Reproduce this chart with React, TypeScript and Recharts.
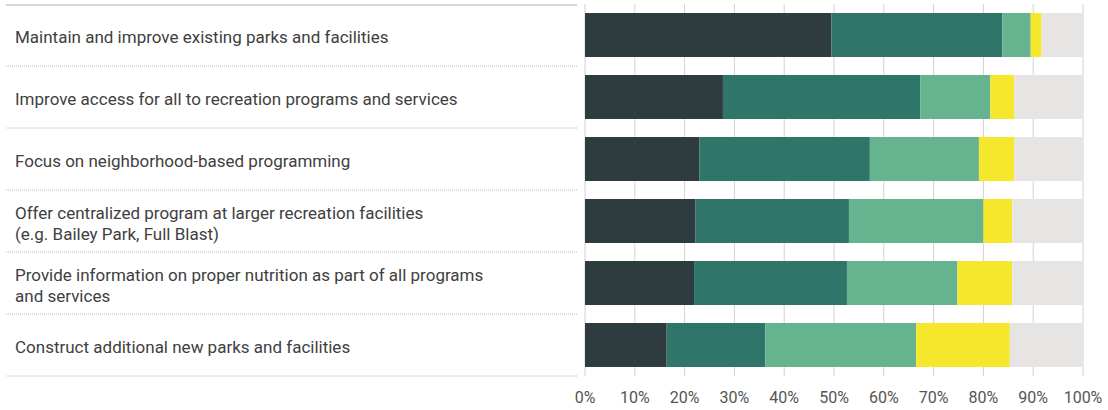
import React from 'react';
import { BarChart, Bar, XAxis, YAxis, CartesianGrid } from 'recharts';

const categories = [
  'Maintain and improve existing parks and facilities',
  'Improve access for all to recreation programs and services',
  'Focus on neighborhood-based programming',
  'Offer centralized program at larger recreation facilities\n(e.g. Bailey Park, Full Blast)',
  'Provide information on proper nutrition as part of all programs\nand services',
  'Construct additional new parks and facilities',
];

const seriesA = [49.5, 27.7, 23.0, 22.2, 21.9, 16.4];
const seriesB = [34.3, 39.6, 34.2, 30.8, 30.7, 19.8];
const seriesC = [5.7, 14.1, 21.9, 27.0, 22.2, 30.3];
const seriesD = [2.2, 4.8, 7.1, 5.8, 11.0, 18.8];
const seriesE = [8.3, 13.8, 13.8, 14.2, 14.2, 14.7];

const xTicks = [0, 10, 20, 30, 40, 50, 60, 70, 80, 90, 100];

const data = categories.map((c, i) => ({
  name: c,
  a: seriesA[i],
  b: seriesB[i],
  c: seriesC[i],
  d: seriesD[i],
  e: seriesE[i],
}));

const W = 1108;
const H = 410;
const M = { top: 4, right: 25, bottom: 0, left: 0 };
const XH = 34;
const BAND = (H - M.top - M.bottom - XH) / categories.length;
const FONT = 'Roboto, "Noto Sans", sans-serif';

const YTick = (props: any) => {
  const { y, payload, index } = props;
  const lines = String(payload.value).split('\n');
  const lh = 21;
  const startY = y + 6 - ((lines.length - 1) * lh) / 2 + 2;
  return (
    <g>
      {index === 0 && (
        <line x1={6} x2={577} y1={y - BAND / 2 + 1} y2={y - BAND / 2 + 1} stroke="#c8c8c8" strokeWidth={1.5} />
      )}
      <line x1={6} x2={577} y1={y + BAND / 2} y2={y + BAND / 2} stroke="#b8b8b8" strokeWidth={1} strokeDasharray="1 1" />
      <text x={15} y={startY} fill="#404040" fontSize={17} fontFamily={FONT} textAnchor="start">
        {lines.map((l, i) => (
          <tspan key={i} x={15} y={startY + i * lh}>
            {l}
          </tspan>
        ))}
      </text>
    </g>
  );
};

export default function App() {
  return (
    <div style={{ position: 'absolute', left: 0, top: 0, background: '#fff' }}>
      <BarChart width={W} height={H} data={data} layout="vertical" margin={M} barCategoryGap={0}>
        <CartesianGrid vertical horizontal={false} stroke="#d2d2d2" verticalValues={xTicks} />
        <XAxis
          type="number"
          domain={[0, 100]}
          ticks={xTicks}
          tickFormatter={(v) => `${v}%`}
          axisLine={false}
          tickLine={false}
          height={XH}
          tick={{ fill: '#555', fontSize: 16, fontFamily: FONT }}
          tickMargin={10}
        />
        <YAxis
          type="category"
          dataKey="name"
          width={585}
          axisLine={false}
          tickLine={false}
          tick={<YTick />}
          interval={0}
        />
        <Bar dataKey="a" stackId="s" fill="#2E3B3F" barSize={44} isAnimationActive={false} />
        <Bar dataKey="b" stackId="s" fill="#2F7569" barSize={44} isAnimationActive={false} />
        <Bar dataKey="c" stackId="s" fill="#66B38F" barSize={44} isAnimationActive={false} />
        <Bar dataKey="d" stackId="s" fill="#F4E72C" barSize={44} isAnimationActive={false} />
        <Bar dataKey="e" stackId="s" fill="#E6E5E3" barSize={44} isAnimationActive={false} />
      </BarChart>
    </div>
  );
}
